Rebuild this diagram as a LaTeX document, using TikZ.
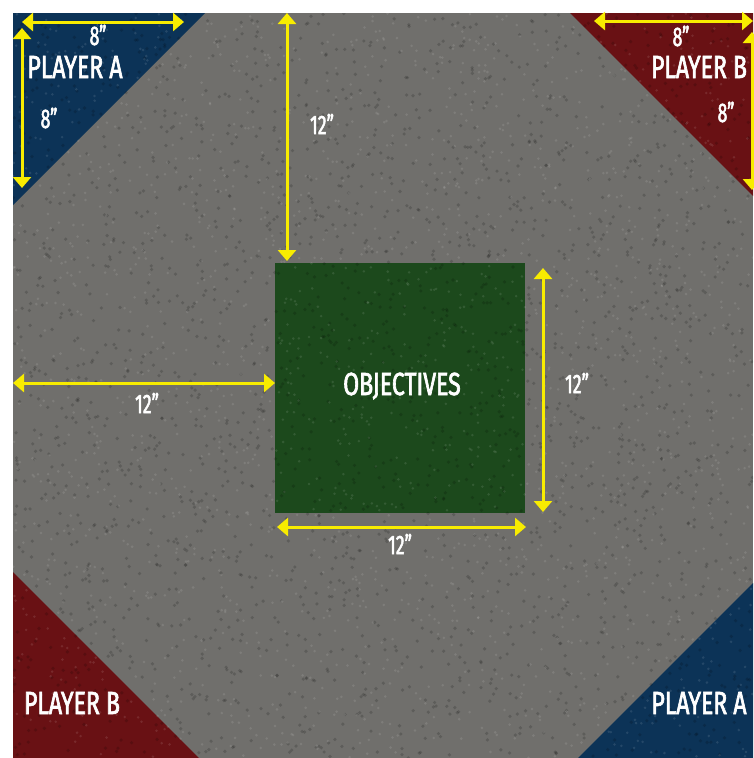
\documentclass[tikz,border=0pt]{standalone}
\usepackage{fontspec}
\usepackage{xcolor}
\usepackage{tikz}
\usetikzlibrary{arrows.meta}
\newfontfamily\boardfont[FakeStretch=0.72,FakeBold=2]{Fira Sans}
\newfontfamily\dimfont[FakeStretch=0.66,FakeBold=1.8]{Fira Sans}
\definecolor{PGravel}{HTML}{706F6C}
\definecolor{PBlue}{HTML}{0C3357}
\definecolor{PRed}{HTML}{691114}
\definecolor{PGreen}{HTML}{1C491C}
\definecolor{PYellow}{HTML}{F8EC00}

\begin{document}
\begin{tikzpicture}[
  x=1pt,y=-1pt,
  every node/.style={text=white,inner sep=0pt},
  zone/.style={font=\boardfont\fontsize{32}{32}\selectfont},
  dimlbl/.style={font=\dimfont\fontsize{27}{27}\selectfont},
  dimline/.style={{Triangle[length=11pt,width=18pt]}-{Triangle[length=11pt,width=18pt]},
    line width=3pt,color=PYellow}
]
  \useasboundingbox[fill=white] (0,0) rectangle (753,758);
  % board and deployment zones
  \fill[PGravel] (13,13) rectangle (753,758);
  \fill[PBlue] (13,13) -- (205,13) -- (13,205) -- cycle;
  \fill[PRed] (570,13) -- (753,13) -- (753,196) -- cycle;
  \fill[PRed] (13,572) -- (199,758) -- (13,758) -- cycle;
  \fill[PBlue] (753,583) -- (753,758) -- (578,758) -- cycle;
  \fill[PGreen] (275,263) rectangle (525,513);
  % rough texture
  \begin{scope}
    \clip (13,13) rectangle (753,758);
    \pgfmathsetseed{11}
    \foreach \i in {1,...,2400}
      {\fill[black,opacity=0.16] ({13+740*rnd},{13+745*rnd}) circle (1.8);}
    \foreach \i in {1,...,2000}
      {\fill[white,opacity=0.10] ({13+740*rnd},{13+745*rnd}) circle (1.4);}
  \end{scope}

  % dimension end points
  \coordinate (tlh1) at (22,22);   \coordinate (tlh2) at (184,22);
  \coordinate (tlv1) at (22,28);   \coordinate (tlv2) at (22,188);
  \coordinate (trh1) at (594,21);  \coordinate (trh2) at (753,21);
  \coordinate (trv1) at (752,32);  \coordinate (trv2) at (752,190);
  \coordinate (ctop1) at (287,13); \coordinate (ctop2) at (287,261);
  \coordinate (cleft1) at (13,383); \coordinate (cleft2) at (275,383);
  \coordinate (cright1) at (543,268); \coordinate (cright2) at (543,512);
  \coordinate (cbot1) at (277,527); \coordinate (cbot2) at (526,527);

  \foreach \a/\b in {tlh1/tlh2,tlv1/tlv2,trh1/trh2,trv1/trv2,ctop1/ctop2,cleft1/cleft2,cright1/cright2,cbot1/cbot2}
    {\draw[dimline] (\a) -- (\b);}

  % labels
  \node[zone] (playerAtl) at (75,67) {PLAYER A};
  \node[zone] (playerBtr) at (699,67) {PLAYER B};
  \node[zone] (playerBbl) at (72,703) {PLAYER B};
  \node[zone] (playerAbr) at (699,703) {PLAYER A};
  \node[zone] (obj) at (402,386) {OBJECTIVES};
  \node[dimlbl] (dtlh) at (98,35) {8”};
  \node[dimlbl] (dtlv) at (49,118) {8”};
  \node[dimlbl] (dtrh) at (681,36) {8”};
  \node[dimlbl] (dtrv) at (726,112) {8”};
  \node[dimlbl] (dctop) at (322,124) {12”};
  \node[dimlbl] (dcleft) at (147,403) {12”};
  \node[dimlbl] (dcright) at (577,383) {12”};
  \node[dimlbl] (dcbot) at (400,544) {12”};
\end{tikzpicture}
\end{document}
